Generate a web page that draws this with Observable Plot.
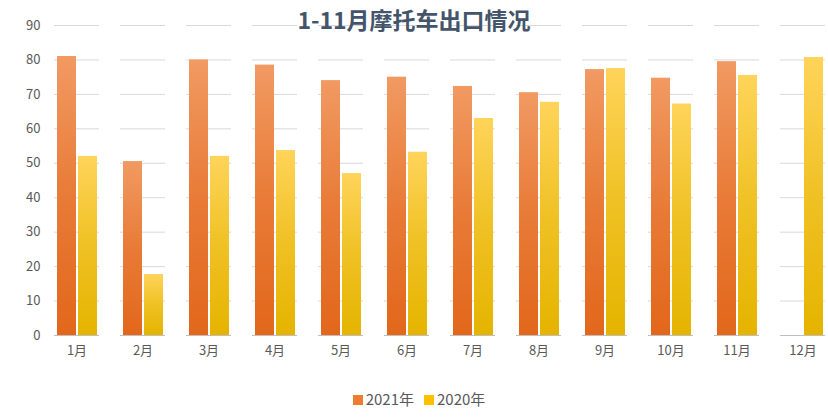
<!DOCTYPE html>
<html><head><meta charset="utf-8">
<script src="https://cdn.jsdelivr.net/npm/d3@7"></script>
<script src="https://cdn.jsdelivr.net/npm/@observablehq/plot@0.6"></script>
<style>
body{margin:0;background:#fff;font-family:"Noto Sans CJK SC","Noto Sans",sans-serif;}
#wrap{position:relative;width:828px;height:417px;}
#title{position:absolute;top:2px;left:0;width:828px;text-align:center;font-size:23px;font-weight:bold;color:#44546a;}
#legend{position:absolute;top:388px;left:0;width:828px;text-align:center;font-size:15px;color:#595959;}
.sw{display:inline-block;width:10px;height:10px;margin:0 3px 0 10px;}
</style></head><body>
<div id="wrap"><div id="chart"></div>
<div id="title">1-11月摩托车出口情况</div>
<div id="legend"><span class="sw" style="background:#ed7d31"></span>2021年<span class="sw" style="background:#ffc000"></span>2020年</div>
</div>
<script>
const months = ["1月","2月","3月","4月","5月","6月","7月","8月","9月","10月","11月","12月"];
const series = ["2021年","2020年"];
const v2021 = [81,50.5,80,78.5,74,75,72.3,70.5,77.2,74.7,79.5,null];
const v2020 = [52,17.7,52,53.7,47,53.2,63,67.7,77.5,67.2,75.5,80.7];
const data = [];
months.forEach((m,i)=>{
  if (v2021[i]!=null) data.push({m, s:series[0], v:v2021[i]});
  data.push({m, s:series[1], v:v2020[i]});
});
const chart = Plot.plot({
  width:828, height:375, marginTop:25, marginBottom:40, marginLeft:52, marginRight:1,
  style:{fontSize:"13px", color:"#595959", fontFamily:"Noto Sans CJK SC, sans-serif"},
  fx:{domain:months, padding:0.32, label:null, axis:null},
  x:{domain:series, padding:0.1, axis:null},
  y:{domain:[0,90], ticks:d3.range(0,100,10), label:null},
  marks:[
    Plot.gridY(d3.range(10,100,10), {stroke:"#d9d9d9", strokeOpacity:1}),
    Plot.axisY({ticks:d3.range(0,100,10), tickSize:0, tickPadding:14, label:null}),
    Plot.axisFx({anchor:"bottom", tickSize:0, tickPadding:10, label:null}),
    Plot.barY(data, {fx:"m", x:"s", y:"v", fill:d=>d.s===series[0]?"url(#g1)":"url(#g2)"}),
    Plot.ruleY([0], {stroke:"#bfbfbf"})
  ]
});
const svg = d3.select(chart);
const defs = svg.insert("defs",":first-child");
function grad(id, top, bot){
  const g = defs.append("linearGradient").attr("id",id).attr("x1",0).attr("y1",0).attr("x2",0).attr("y2",1);
  g.append("stop").attr("offset","0%").attr("stop-color",top);
  g.append("stop").attr("offset","50%").attr("stop-color",d3.interpolateRgb(top,bot)(0.6));
  g.append("stop").attr("offset","100%").attr("stop-color",bot);
}
grad("g1","#f19a62","#e2671b");
grad("g2","#ffd45a","#e5b400");
document.getElementById("chart").appendChild(chart);
</script></body></html>
